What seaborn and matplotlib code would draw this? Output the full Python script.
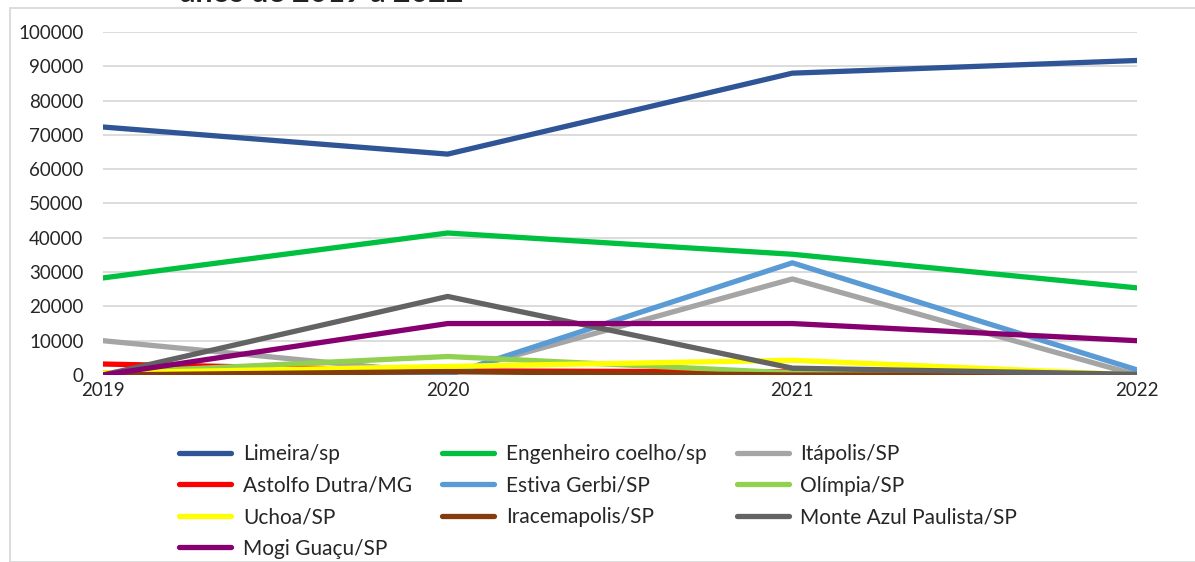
import matplotlib
matplotlib.use("Agg")
import matplotlib.pyplot as plt
import seaborn as sns
import pandas as pd
from matplotlib.patches import Rectangle

years = [2019, 2020, 2021, 2022]
cities = ["Limeira/sp", "Engenheiro coelho/sp", "Itápolis/SP",
          "Astolfo Dutra/MG", "Estiva Gerbi/SP", "Olímpia/SP",
          "Uchoa/SP", "Iracemapolis/SP", "Monte Azul Paulista/SP",
          "Mogi Guaçu/SP"]
limeira = [72300, 64400, 88000, 91700]
engenheiro = [28300, 41400, 35200, 25400]
itapolis = [10000, 300, 28000, 0]
astolfo = [3200, 1200, 900, 0]
estiva = [0, 0, 32700, 1500]
olimpia = [600, 5400, 600, 0]
uchoa = [600, 2500, 4300, 0]
iracemapolis = [0, 1000, 0, 0]
monte_azul = [0, 22900, 2000, 200]
mogi = [0, 15000, 15000, 10000]
colors = ["#2F5597", "#00C040", "#A5A5A5", "#FF0000", "#5B9BD5",
          "#92D050", "#FFFF00", "#843C0C", "#636363", "#870070"]
yticks = list(range(0, 100001, 10000))

series = [limeira, engenheiro, itapolis, astolfo, estiva, olimpia,
          uchoa, iracemapolis, monte_azul, mogi]
rows = []
for name, vals in zip(cities, series):
    for y, v in zip(years, vals):
        rows.append({"Ano": y, "Valor": v, "Cidade": name})
df = pd.DataFrame(rows)

sns.set_theme(style="white")
plt.rcParams['font.family'] = ['Lato', 'DejaVu Sans']

fig = plt.figure(figsize=(11.95, 5.62), dpi=100)
ax = fig.add_axes([103/1195, 1-375/562, (1137-103)/1195, (375-32)/562])

sns.lineplot(data=df, x="Ano", y="Valor", hue="Cidade", hue_order=cities,
             palette=colors, linewidth=3.8, ax=ax, legend=True)

ax.set_xlim(2019, 2022)
ax.set_ylim(0, 100000)
ax.set_yticks(yticks)
ax.set_yticklabels([str(t) for t in yticks], fontsize=13.5)
ax.set_xticks(years)
ax.set_xticklabels([str(y) for y in years], fontsize=13.5)
ax.tick_params(axis='y', pad=14, length=0)
ax.tick_params(axis='x', pad=5, length=0)
ax.set_xlabel("")
ax.set_ylabel("")
ax.grid(axis='y', color='#d9d9d9', linewidth=1.3)
ax.set_axisbelow(True)
for s in ax.spines.values():
    s.set_visible(False)

handles, labels = ax.get_legend_handles_labels()
ax.get_legend().remove()
order = [0, 3, 6, 9, 1, 4, 7, 2, 5, 8]
handles = [handles[i] for i in order]
labels = [labels[i] for i in order]
leg = fig.legend(handles, labels, ncol=3, loc='upper left',
                 bbox_to_anchor=(171/1195, 1-436/562), frameon=False,
                 fontsize=15, handlelength=2.5, handletextpad=0.55,
                 columnspacing=1.45, labelspacing=0.55, borderaxespad=0)
for h in leg.get_lines():
    h.set_linewidth(3.8)

fig.patches.append(Rectangle((10/1195, 0), 1.2, 1-8/562, transform=fig.transFigure,
                             fill=False, edgecolor='#d9d9d9', linewidth=1.3))

fig.text(180/1195, 1-2/562, "anos de 2019 a 2022", fontsize=22,
         fontweight='bold', va='baseline', ha='left', color='#222222')

fig.savefig("out.png", dpi=100, facecolor='white')
